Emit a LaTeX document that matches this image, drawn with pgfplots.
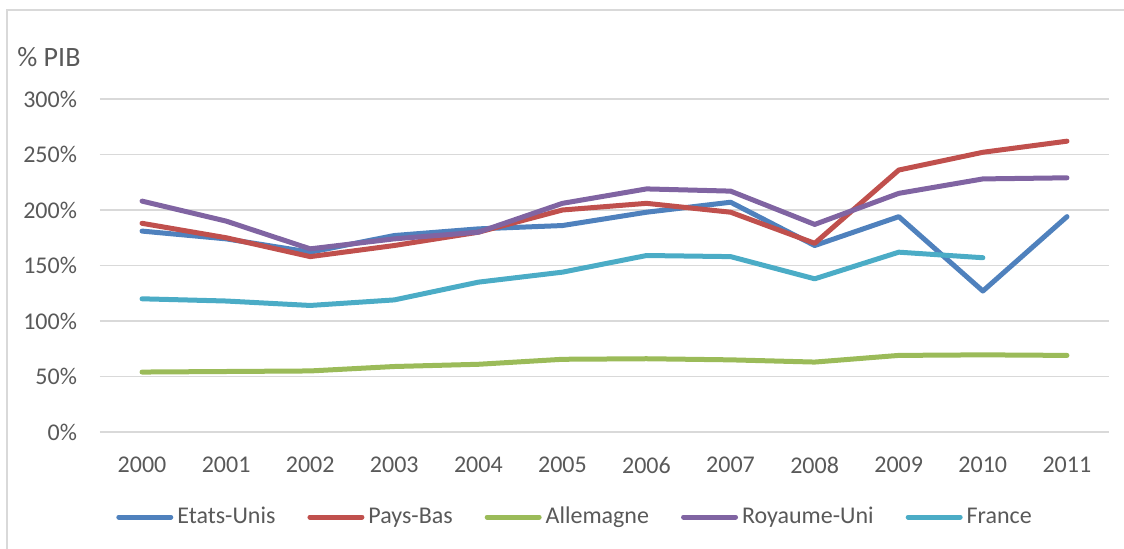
\documentclass[border=0pt]{standalone}
\usepackage{fontspec}
\setmainfont{Carlito}
\usepackage{pgfplots}
\pgfplotsset{compat=1.18}
\definecolor{cUS}{HTML}{4F81BD}
\definecolor{cNL}{HTML}{C0504D}
\definecolor{cDE}{HTML}{9BBB59}
\definecolor{cUK}{HTML}{8064A2}
\definecolor{cFR}{HTML}{4BACC6}
\definecolor{txt}{HTML}{595959}
\definecolor{gridc}{HTML}{D9D9D9}
\begin{document}
\begin{tikzpicture}
\path[use as bounding box] (0,0) rectangle (562pt,-274.5pt);
\draw[gridc, line width=0.8pt] (3.5pt,-280pt) -- (3.5pt,-5pt) -- (570pt,-5pt);
\node[anchor=west, text=txt, font=\fontsize{14}{16}\selectfont, inner sep=0pt] at (8.5pt,-28.5pt) {\% PIB};
\begin{axis}[
    at={(50pt,-216pt)}, anchor=south west,
    scale only axis, width=504.5pt, height=166.5pt,
    xmin=1999.5, xmax=2011.5, ymin=0, ymax=300,
    axis line style={draw=none},
    xtick={2000,...,2011},
    ytick={0,50,...,300},
    major tick length=0pt,
    xmajorgrids=false, ymajorgrids=true,
    major grid style={gridc, line width=0.75pt},
    xticklabel style={text=txt, font=\fontsize{12}{14}\selectfont, yshift=-9pt},
    yticklabel style={text=txt, font=\fontsize{12}{14}\selectfont, xshift=-8pt},
    xticklabel={\pgfmathprintnumber[1000 sep={}]{\tick}},
    yticklabel={\pgfmathprintnumber{\tick}\%},
    /pgf/number format/assume math mode=true,
    legend columns=5,
    legend style={draw=none, fill=none, at={(0.4718,-0.2553)}, anchor=center,
        font=\fontsize{12}{14}\selectfont, text=txt,
        /tikz/every even column/.append style={column sep=14pt}},
    legend image code/.code={\draw[#1, line cap=round] (0pt,0pt) -- (26pt,0pt);},
    every axis plot/.append style={line width=2.5pt, line cap=round, line join=round},
]
\addplot[cUS] coordinates {(2000,181) (2001,174) (2002,162) (2003,177) (2004,183) (2005,186) (2006,198) (2007,207) (2008,168) (2009,194) (2010,127) (2011,194)};
\addplot[cNL] coordinates {(2000,188) (2001,175) (2002,158) (2003,168) (2004,180) (2005,200) (2006,206) (2007,198) (2008,170) (2009,236) (2010,252) (2011,262)};
\addplot[cDE] coordinates {(2000,54) (2001,54.5) (2002,55) (2003,59) (2004,61) (2005,65.5) (2006,66) (2007,65) (2008,63) (2009,69) (2010,69.5) (2011,69)};
\addplot[cUK] coordinates {(2000,208) (2001,190) (2002,165) (2003,174) (2004,180) (2005,206) (2006,219) (2007,217) (2008,187) (2009,215) (2010,228) (2011,229)};
\addplot[cFR] coordinates {(2000,120) (2001,118) (2002,114) (2003,119) (2004,135) (2005,144) (2006,159) (2007,158) (2008,138) (2009,162) (2010,157)};
\legend{Etats-Unis, Pays-Bas, Allemagne, Royaume-Uni, France}
\end{axis}
\end{tikzpicture}
\end{document}
